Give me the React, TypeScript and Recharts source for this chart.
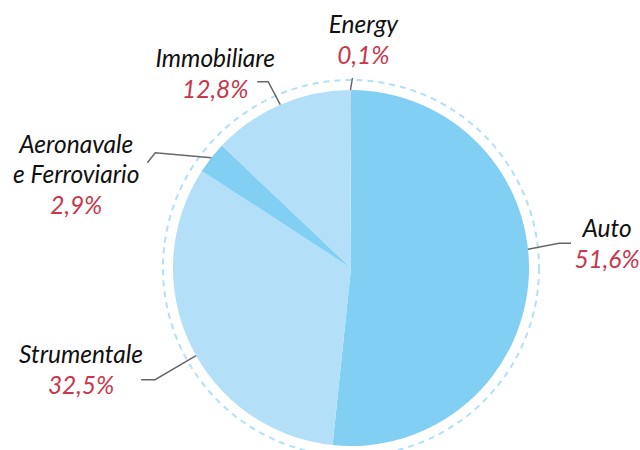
import { PieChart, Pie, Cell } from 'recharts';

const categories = ['Auto', 'Strumentale', 'Aeronavale\ne Ferroviario', 'Immobiliare', 'Energy'];
const shares = [51.6, 32.5, 2.9, 12.8, 0.1];
const sliceColors = ['#82cff4', '#b3e0f8', '#82cff4', '#b3e0f8', '#c9d5dc'];

// leader line + text placement per slice (relative to the slice edge point)
const labelLayout = [
  { shift: 9, elbow: [31, -6], end: [12, 0], text: [36, -6] },
  { shift: 4, elbow: [-41, 24], end: [-14, 0], text: [-60, -17] },
  { shift: 0, elbow: [-56, -5], end: [-8, 10], text: [-71, -10] },
  { shift: 0, elbow: [-12, -23], end: [-11, 0], text: [-42, -15] },
  { shift: 0, elbow: [2, -12], end: [0, 0], text: [11, -45] },
];

const data = categories.map((name, i) => ({ name, value: shares[i] }));

const RAD = Math.PI / 180;
const FONT = 'Lato, "Open Sans", sans-serif';
const FONT_SIZE = 24.5;

function renderLabel(props: any) {
  const { cx, cy, midAngle, outerRadius, index, value } = props;
  const lay = labelLayout[index];
  const a = (midAngle + lay.shift) * RAD;
  const sx = cx + outerRadius * Math.cos(a);
  const sy = cy - outerRadius * Math.sin(a);
  const ex = sx + lay.elbow[0];
  const ey = sy + lay.elbow[1];
  const tx = ex + lay.end[0];
  const ty = ey + lay.end[1];
  const lx = tx + lay.text[0];
  const ly = ty + lay.text[1];
  const lines = String(categories[index]).split('\n');
  const pct = value.toFixed(1).replace('.', ',') + '%';
  return (
    <g key={`lbl-${index}`}>
      <polyline
        points={`${sx},${sy} ${ex},${ey} ${tx},${ty}`}
        fill="none"
        stroke="#666"
        strokeWidth={1.5}
      />
      {lines.map((ln, j) => (
        <text
          key={j}
          x={lx}
          y={ly + j * 30}
          textAnchor="middle"
          fontFamily={FONT}
          fontStyle="italic"
          fontSize={FONT_SIZE}
          fill="#111"
        >
          {ln}
        </text>
      ))}
      <text
        x={lx}
        y={ly + (lines.length - 1) * 30 + 31}
        textAnchor="middle"
        fontFamily={FONT}
        fontStyle="italic"
        fontSize={FONT_SIZE}
        fill="#c8374a"
      >
        {pct}
      </text>
    </g>
  );
}

export default function App() {
  return (
    <div style={{ position: 'absolute', left: 0, top: 0, width: 640, height: 450, background: '#fff' }}>
      <PieChart width={640} height={450} margin={{ top: 0, right: 0, bottom: 0, left: 0 }}>
        <circle cx={351} cy={268} r={188} fill="none" stroke="#b3e0f8" strokeWidth={2} strokeDasharray="6 5" />
        <Pie
          data={data}
          dataKey="value"
          nameKey="name"
          cx={351}
          cy={268}
          outerRadius={178}
          startAngle={90}
          endAngle={-270}
          stroke="none"
          label={renderLabel}
          labelLine={false}
          isAnimationActive={false}
        >
          {data.map((d, i) => (
            <Cell key={d.name} fill={sliceColors[i]} />
          ))}
        </Pie>
      </PieChart>
    </div>
  );
}
